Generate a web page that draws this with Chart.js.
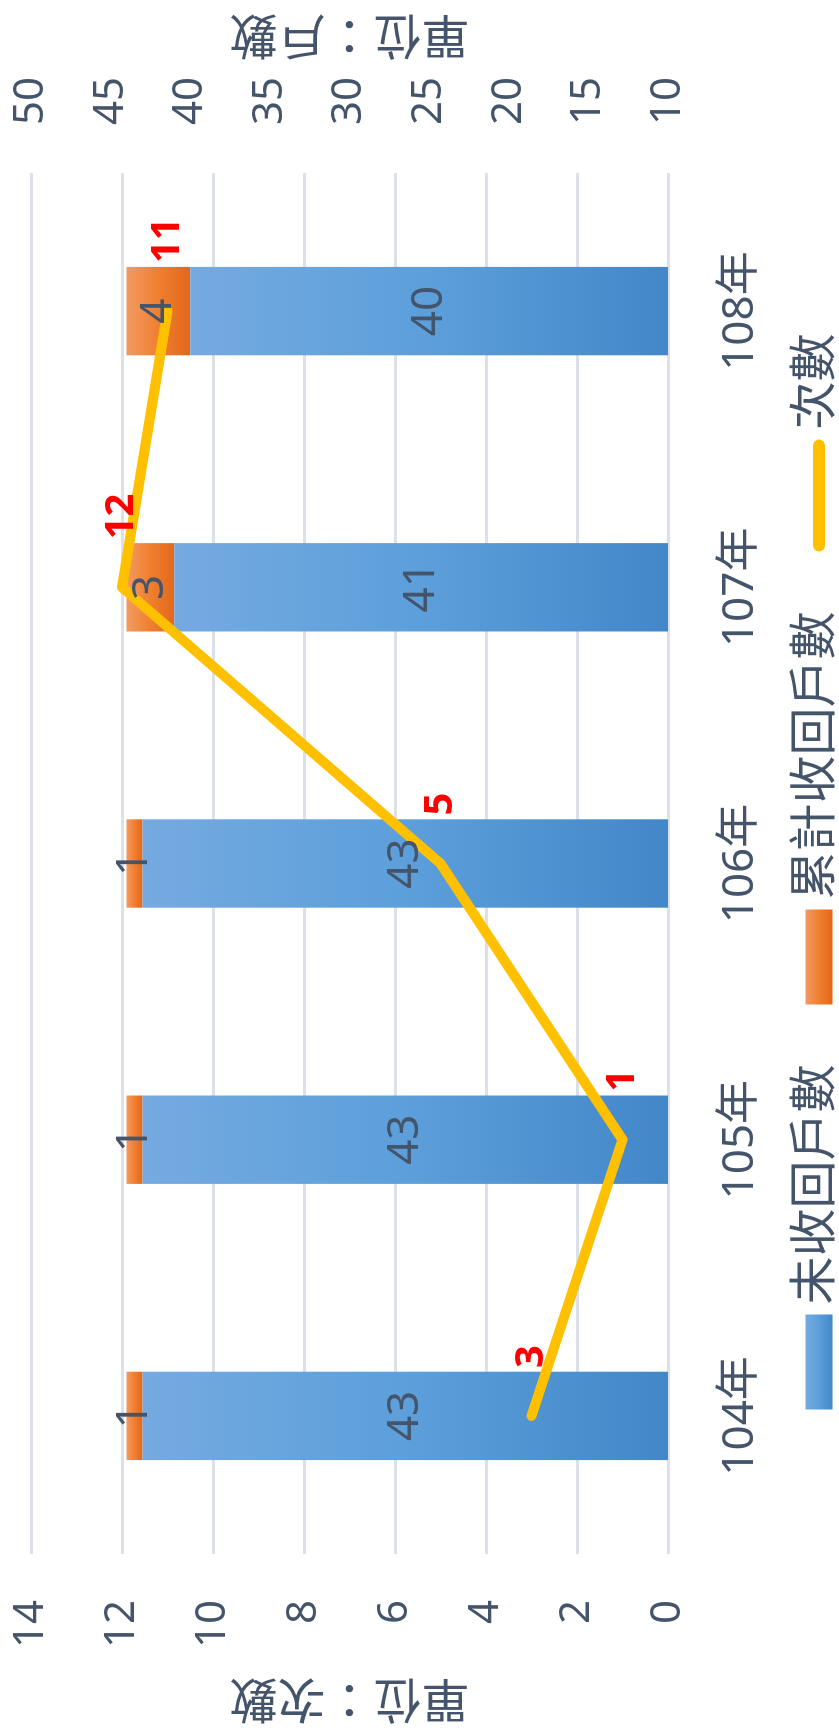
<!DOCTYPE html>
<html>
<head>
<meta charset="utf-8">
<script src="https://cdn.jsdelivr.net/npm/chart.js@4.4.1/dist/chart.umd.min.js"></script>
<style>
  html, body { margin: 0; padding: 0; background: #fff; overflow: hidden; }
  /* chart is laid out landscape, then turned a quarter turn to the left */
  #wrap { position: absolute; left: 0; top: 0; width: 1731px; height: 839px;
          transform-origin: 0 0; transform: translateY(1731px) rotate(-90deg); }
  canvas { display: block; }
</style>
</head>
<body>
<div id="wrap"><canvas id="chart" width="1731" height="839"></canvas></div>
<script>
const years       = ['104年', '105年', '106年', '107年', '108年'];
const unrecovered = [43, 43, 43, 41, 40];   // 未收回戶數
const recovered   = [1, 1, 1, 3, 4];        // 累計收回戶數
const visits      = [3, 1, 5, 12, 11];      // 次數
const countTicks  = [0, 2, 4, 6, 8, 10, 12, 14];
const houseTicks  = [10, 15, 20, 25, 30, 35, 40, 45, 50];

const TEXT = '#44546A';
const FONT = '"Noto Sans", "Noto Sans CJK TC", sans-serif';
Chart.defaults.font.family = FONT;
Chart.defaults.color = TEXT;

const BLUE   = ['#75AAE0', '#5C9FDB', '#4287C8'];
const ORANGE = ['#F29A62', '#F07F2F', '#E2671A'];

// gradient running down each stacked segment
function segmentFill(stops) {
  return (c) => {
    const chart = c.chart;
    if (!chart.chartArea || c.type !== 'data') return stops[1];
    const scale = chart.scales.y2;
    let start = 0;
    for (let k = 0; k < c.datasetIndex; k++) {
      const d = chart.data.datasets[k];
      if (d.type !== 'line') start += d.data[c.dataIndex];
    }
    const top = scale.getPixelForValue(start + c.raw);
    const bot = scale.getPixelForValue(Math.max(start, scale.min));
    const g = chart.ctx.createLinearGradient(0, top, 0, bot);
    g.addColorStop(0, stops[0]);
    g.addColorStop(0.5, stops[1]);
    g.addColorStop(1, stops[2]);
    return g;
  };
}

const extras = {
  id: 'extras',
  afterDatasetsDraw(chart) {
    const ctx = chart.ctx;
    const area = chart.chartArea;
    ctx.save();
    ctx.font = '44px ' + FONT;
    ctx.fillStyle = TEXT;
    ctx.textAlign = 'center';
    ctx.textBaseline = 'middle';
    [0, 1].forEach(di => {
      chart.getDatasetMeta(di).data.forEach((bar, i) => {
        const p = bar.getProps(['x', 'y', 'base'], true);
        const base = Math.min(p.base, area.bottom);
        ctx.fillText(String(chart.data.datasets[di].data[i]), p.x, (p.y + base) / 2);
      });
    });
    ctx.font = 'bold 40px ' + FONT;
    ctx.fillStyle = '#FF0000';
    ctx.textAlign = 'left';
    chart.getDatasetMeta(2).data.forEach((pt, i) => {
      ctx.fillText(String(visits[i]), pt.x + 48, pt.y);
    });
    ctx.restore();
  },
  afterDraw(chart) {
    const ctx = chart.ctx;
    const area = chart.chartArea;
    const W = chart.width;
    const midY = (area.top + area.bottom) / 2;
    ctx.save();
    ctx.fillStyle = TEXT;
    ctx.font = '48px ' + FONT;
    ctx.textAlign = 'center';
    ctx.textBaseline = 'middle';
    [[34, '單位：次數'], [W - 33, '單位：戶數']].forEach(([x, t]) => {
      ctx.save();
      ctx.translate(x, midY);
      ctx.rotate(-Math.PI / 2);
      ctx.fillText(t, 0, 0);
      ctx.restore();
    });

    // legend
    const ly = 819;
    const items = chart.data.datasets.map((d, i) => ({
      label: d.label, line: d.type === 'line', stops: i === 0 ? BLUE : ORANGE, sw: d.type === 'line' ? 112 : 95
    }));
    ctx.font = '48px ' + FONT;
    ctx.textAlign = 'left';
    const gap = 10, itemGap = 60;
    let total = 0;
    items.forEach((it, i) => {
      it.tw = ctx.measureText(it.label).width;
      total += it.sw + gap + it.tw + (i ? itemGap : 0);
    });
    let x = (W - total) / 2 - 6;
    items.forEach(it => {
      if (it.line) {
        ctx.strokeStyle = '#FFC000';
        ctx.lineWidth = 12;
        ctx.lineCap = 'round';
        ctx.beginPath();
        ctx.moveTo(x + 6, ly);
        ctx.lineTo(x + it.sw - 6, ly);
        ctx.stroke();
      } else {
        const g = ctx.createLinearGradient(0, ly - 13.5, 0, ly + 13.5);
        g.addColorStop(0, it.stops[0]);
        g.addColorStop(0.5, it.stops[1]);
        g.addColorStop(1, it.stops[2]);
        ctx.fillStyle = g;
        ctx.fillRect(x, ly - 13.5, it.sw, 27);
      }
      x += it.sw + gap;
      ctx.fillStyle = TEXT;
      ctx.fillText(it.label, x, ly - 3);
      x += it.tw + itemGap;
    });
    ctx.restore();
  }
};

function fixWidth(w) {
  return (s) => { s.width = w; s.paddingTop = 0; s.paddingBottom = 0; };
}

new Chart(document.getElementById('chart'), {
  type: 'bar',
  data: {
    labels: years,
    datasets: [
      {
        label: '未收回戶數',
        data: unrecovered,
        yAxisID: 'y2',
        stack: 'h',
        backgroundColor: segmentFill(BLUE),
        categoryPercentage: 0.64,
        barPercentage: 0.5,
        order: 1
      },
      {
        label: '累計收回戶數',
        data: recovered,
        yAxisID: 'y2',
        stack: 'h',
        backgroundColor: segmentFill(ORANGE),
        categoryPercentage: 0.64,
        barPercentage: 0.5,
        order: 1
      },
      {
        type: 'line',
        label: '次數',
        data: visits,
        yAxisID: 'y',
        borderColor: '#FFC000',
        borderWidth: 10,
        borderCapStyle: 'round',
        borderJoinStyle: 'round',
        pointRadius: 0,
        tension: 0,
        order: 0
      }
    ]
  },
  options: {
    responsive: false,
    devicePixelRatio: 1,
    animation: false,
    layout: { padding: { top: 31, left: 0, right: 0, bottom: 0 } },
    scales: {
      x: {
        grid: { display: false },
        border: { display: false },
        ticks: { font: { size: 44 }, color: TEXT, padding: 38 },
        afterFit: (s) => { s.height = 171; }
      },
      y: {
        position: 'left',
        min: countTicks[0],
        max: countTicks[countTicks.length - 1],
        grid: { color: '#DCE1E9', lineWidth: 3, drawTicks: false },
        border: { display: false },
        ticks: { stepSize: countTicks[1] - countTicks[0], font: { size: 42 }, color: TEXT, padding: 46 },
        afterFit: fixWidth(177)
      },
      y2: {
        position: 'right',
        stacked: true,
        min: houseTicks[0],
        max: houseTicks[houseTicks.length - 1],
        grid: { display: false, drawTicks: false },
        border: { display: false },
        ticks: { stepSize: houseTicks[1] - houseTicks[0], font: { size: 42 }, color: TEXT, padding: 48 },
        afterFit: fixWidth(173)
      }
    },
    plugins: {
      legend: { display: false },
      tooltip: { enabled: false }
    }
  },
  plugins: [extras]
});
</script>
</body>
</html>
